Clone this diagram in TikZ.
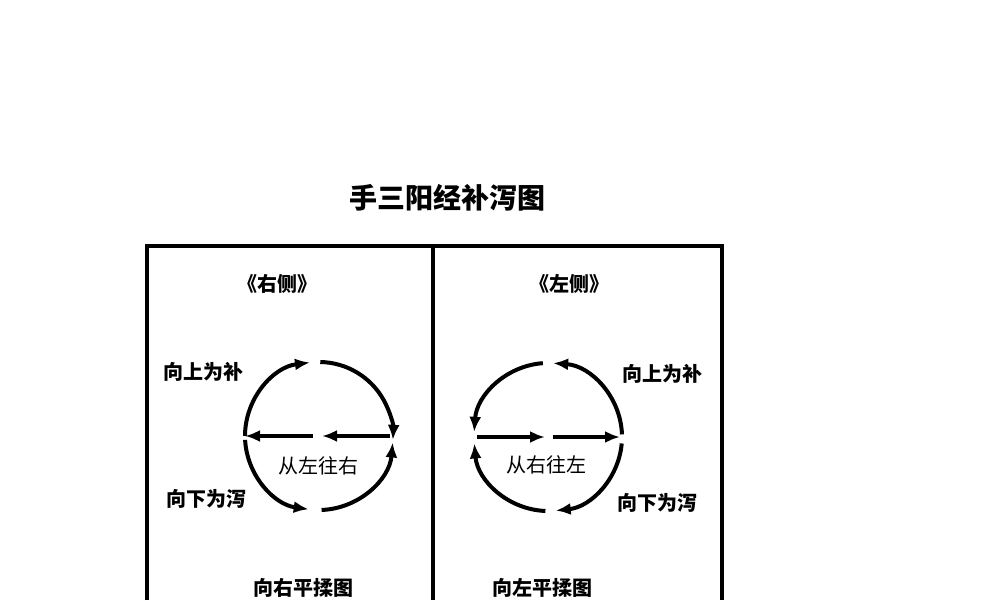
\documentclass[tikz,border=0pt]{standalone}
\usepackage{fontspec}
\usetikzlibrary{arrows.meta}
\newfontfamily\cjk{Noto Sans CJK SC}
\tikzset{
	lbl/.style={font=\cjk\bfseries\fontsize{10}{12}\selectfont, inner sep=0pt},
	mid/.style={font=\cjk\fontsize{10}{12}\selectfont, inner sep=0pt},
	arc/.style={line width=2pt, -{Latex[length=7.5pt,width=6pt]}}
}
\begin{document}
\begin{tikzpicture}[x=0.5pt, y=0.5pt]
	\useasboundingbox (0,0) rectangle (990,600);
	
	\node [lbl, font=\cjk\bfseries\fontsize{14}{16}\selectfont] (title) at (447,402) {手三阳经补泻图};
	
	\draw [line width=1.6pt] (147,0) -- (147,354) -- (722,354) -- (722,0);
	\draw [line width=1.6pt] (433,354) -- (433,0);
	
	\node [lbl] (rside) at (277,316) {《右侧》};
	\node [lbl] (lside) at (569,316) {《左侧》};
	
	\coordinate (cR) at (319,164);
	\coordinate (cL) at (548,163);
	
	\draw [arc] (cR) ++(180:37pt) arc [start angle=180, end angle=97, radius=37pt];
	\draw [arc] (cR) ++(89:37pt) arc [start angle=89, end angle=-3, radius=37pt];
	\draw [arc] (cR) ++(183:37pt) arc [start angle=183, end angle=262, radius=37pt];
	\draw [arc] (cR) ++(272:37pt) arc [start angle=272, end angle=355, radius=37pt];
	\draw [arc] (313,164) -- (245,164);
	\draw [arc] (390,164) -- (322,164);
	
	\draw [arc] (cL) ++(2:37pt) arc [start angle=2, end angle=86, radius=37pt];
	\draw [arc] (cL) ++(94:37pt) arc [start angle=94, end angle=176, radius=37pt];
	\draw [arc] (cL) ++(-5:37pt) arc [start angle=-5, end angle=-84, radius=37pt];
	\draw [arc] (cL) ++(268:37pt) arc [start angle=268, end angle=185, radius=37pt];
	\draw [arc] (477,163) -- (545,163);
	\draw [arc] (553,163) -- (620,163);
	
	\node [lbl] (rup) at (203,228) {向上为补};
	\node [lbl] (rdown) at (206,101) {向下为泻};
	\node [mid] (rdir) at (318,134) {从左往右};
	
	\node [lbl] (lup) at (662,226) {向上为补};
	\node [lbl] (ldown) at (657,97) {向下为泻};
	\node [mid] (ldir) at (546,135) {从右往左};
	
	\node [lbl] (rname) at (303,12) {向右平揉图};
	\node [lbl] (lname) at (542,12) {向左平揉图};
\end{tikzpicture}
\end{document}
